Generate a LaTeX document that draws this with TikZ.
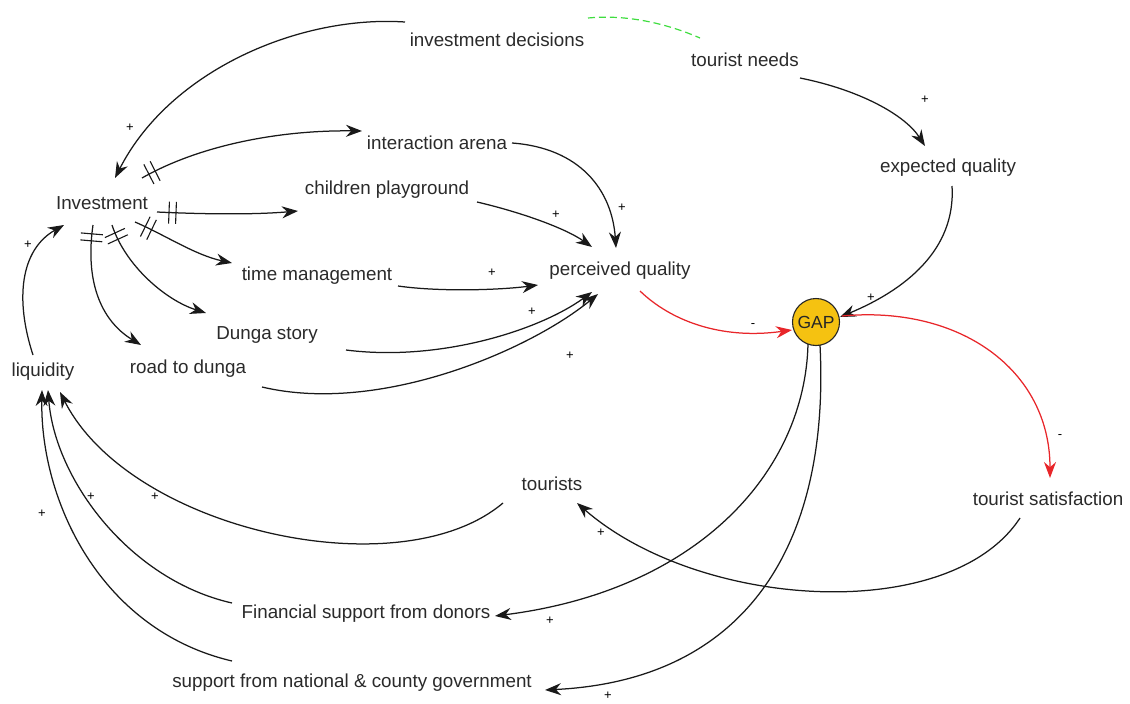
\documentclass[tikz,border=0pt]{standalone}
\usepackage{fontspec}
\setmainfont{Liberation Sans}
\usetikzlibrary{arrows.meta,calc,decorations.markings}
\definecolor{txt}{HTML}{2A2A2A}
\definecolor{redl}{HTML}{E8262A}
\definecolor{gapfill}{HTML}{F5C211}
\definecolor{greenl}{HTML}{3FDD3F}
\begin{document}
\begin{tikzpicture}[x=1pt,y=-1pt,
  lbl/.style={text=txt,font=\fontsize{18.8}{20}\selectfont,inner sep=1pt},
  sgn/.style={text=black,font=\fontsize{13}{13}\selectfont,inner sep=0pt},
  gapnode/.style={circle,draw=black!85,line width=1.1pt,fill=gapfill,minimum size=47pt,inner sep=0pt,text=black!85,font=\fontsize{17.5}{18}\selectfont},
  cx/.style={line width=1.25pt,black!90,-{Stealth[length=16pt,width=12pt]}},
  rx/.style={line width=1.25pt,redl,-{Stealth[length=16pt,width=12pt]}},
  delaymark/.style={postaction={decorate,decoration={markings,
     mark=at position #1 with {\draw[-,line width=1.1pt,black!90] (-3.5,-11)--(-3.5,11) (3.5,-11)--(3.5,11);}}}}
]
\useasboundingbox (0,0) rectangle (1130,704);

% nodes
\node[lbl] (invdec) at (497,40) {investment decisions};
\node[lbl] (tn) at (745,60) {tourist needs};
\node[lbl] (ia) at (437,143) {interaction arena};
\node[lbl] (eq) at (948,168) {expected quality};
\node[lbl] (cp) at (387,190) {children playground};
\node[lbl] (inv) at (102,203) {Investment};
\node[lbl] (tm) at (317,276) {time management};
\node[lbl] (pq) at (620,271) {perceived quality};
\node[lbl] (ds) at (267,335) {Dunga story};
\node[lbl] (liq) at (43,372) {liquidity};
\node[lbl] (rtd) at (188,369) {road to dunga};
\node[lbl] (tour) at (552,484) {tourists};
\node[lbl] (ts) at (1048,499) {tourist satisfaction};
\node[lbl] (fsd) at (366,614) {Financial support from donors};
\node[lbl] (snc) at (352,683) {support from national \& county government};
\node[gapnode] (gap) at (816,322) {GAP};

% connectors
\draw[cx] ($(invdec)+(-92,-18)$) .. controls (300,15) and (170,70) .. ($(inv)+(13,-25)$);
\draw[greenl,line width=1.2pt,dash pattern=on 7pt off 4pt] ($(invdec)+(91,-22)$) .. controls (630,14) and (670,25) .. ($(tn)+(-45,-22)$);
\draw[cx] ($(tn)+(55,18)$) .. controls (860,90) and (905,115) .. ($(eq)+(-23,-22)$);

\draw[cx,delaymark=0.05] ($(inv)+(40,-25)$) .. controls (200,145) and (280,130) .. ($(ia)+(-75,-12)$);
\draw[cx,delaymark=0.11] ($(inv)+(55,9)$) .. controls (200,214) and (250,215) .. ($(cp)+(-89,21)$);
\draw[cx,delaymark=0.14] ($(inv)+(33,19)$) .. controls (165,235) and (195,255) .. ($(tm)+(-85,-13)$);
\draw[cx,delaymark=0.09] ($(inv)+(10,22)$) .. controls (125,265) and (165,300) .. ($(ds)+(-61,-22)$);
\draw[cx,delaymark=0.09] ($(inv)+(-9,22)$) .. controls (85,280) and (100,320) .. ($(rtd)+(-47,-24)$);

\draw[cx] ($(cp)+(90,12)$) .. controls (520,212) and (565,228) .. ($(pq)+(-28,-24)$);
\draw[cx] ($(ia)+(75,0)$) .. controls (580,148) and (612,190) .. ($(pq)+(-4,-23)$);
\draw[cx] ($(tm)+(81,10)$) .. controls (440,292) and (500,290) .. ($(pq)+(-82,14)$);
\draw[cx] ($(ds)+(79,15)$) .. controls (440,362) and (540,330) .. ($(pq)+(-28,21)$);
\draw[cx] ($(rtd)+(74,18)$) .. controls (380,415) and (530,350) .. ($(pq)+(-22,23)$);

\draw[rx] ($(pq)+(20,20)$) .. controls (670,320) and (720,340) .. ($(gap)+(-24,8)$);
\draw[cx] ($(eq)+(4,18)$) .. controls (956,250) and (905,290) .. ($(gap)+(24,-5)$);
\draw[rx] ($(gap)+(26,-6)$) .. controls (960,305) and (1050,370) .. ($(ts)+(2,-21)$);
\draw[cx] ($(gap)+(-8,22)$) .. controls (805,470) and (700,590) .. ($(fsd)+(129,2)$);
\draw[cx] ($(gap)+(4,23)$) .. controls (830,540) and (750,680) .. ($(snc)+(193,7)$);
\draw[cx] ($(ts)+(-28,19)$) .. controls (950,625) and (700,610) .. ($(tour)+(25,19)$);

\draw[cx] ($(tour)+(-49,19)$) .. controls (400,590) and (130,530) .. ($(liq)+(17,20)$);
\draw[cx] ($(fsd)+(-134,-11)$) .. controls (130,580) and (55,480) .. ($(liq)+(5,18)$);
\draw[cx] ($(snc)+(-120,-22)$) .. controls (100,630) and (40,500) .. ($(liq)+(-1,18)$);
\draw[cx] ($(liq)+(-10,-17)$) .. controls (15,300) and (20,250) .. ($(inv)+(-38,22)$);

% polarity signs
\node[sgn] (s1) at (130,128) {+};
\node[sgn] (s2) at (925,100) {+};
\node[sgn] (s3) at (556,215) {+};
\node[sgn] (s4) at (622,208) {+};
\node[sgn] (s5) at (492,273) {+};
\node[sgn] (s6) at (532,312) {+};
\node[sgn] (s7) at (570,356) {+};
\node[sgn] (s8) at (871,298) {+};
\node[sgn] (s9) at (28,245) {+};
\node[sgn] (s10) at (155,497) {+};
\node[sgn] (s11) at (91,497) {+};
\node[sgn] (s12) at (42,514) {+};
\node[sgn] (s13) at (550,621) {+};
\node[sgn] (s14) at (608,696) {+};
\node[sgn] (s15) at (601,533) {+};
\node[sgn] (m1) at (753,326) {-};
\node[sgn] (m2) at (1060,437) {-};
\end{tikzpicture}
\end{document}
